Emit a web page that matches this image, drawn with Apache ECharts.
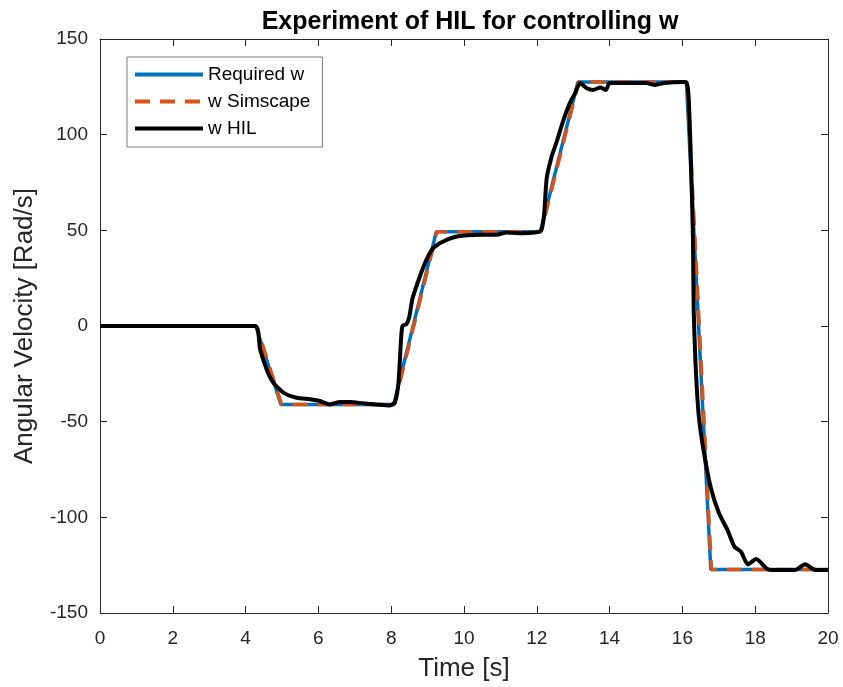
<!DOCTYPE html>
<html>
<head>
<meta charset="utf-8">
<script src="https://cdn.jsdelivr.net/npm/echarts@6/dist/echarts.min.js"></script>
<style>
html,body{margin:0;padding:0;background:#fff;}
#chart{width:843px;height:687px;}
</style>
</head>
<body>
<div id="chart"></div>
<script>
// Required w
var reqT = [0, 4.28, 4.97, 8.07, 9.24, 12.1, 13.13, 16.11, 16.78, 20];
var reqW = [0, 0, -41, -41, 49.3, 49.3, 127.5, 127.5, -127.3, -127.3];
// w Simscape
var simT = [0, 4.3, 4.99, 8.09, 9.26, 12.12, 13.15, 16.13, 16.8, 20];
var simW = [0, 0, -41, -41, 49.3, 49.3, 127.5, 127.5, -127.3, -127.3];
// w HIL
var hilT = [0, 4.26, 4.4, 4.58, 4.76, 5.04, 5.4, 5.77, 6.04, 6.32, 6.59, 6.87, 7.23, 7.6, 7.97, 8.1, 8.2, 8.27, 8.31, 8.42, 8.5, 8.58, 8.79, 8.97, 9.16, 9.43, 9.8, 10.44, 10.9, 11.17, 11.54, 12.0, 12.12, 12.2, 12.27, 12.4, 12.54, 12.72, 12.91, 13.05, 13.19, 13.37, 13.55, 13.74, 13.9, 14.0, 15.0, 15.25, 15.5, 16.05, 16.12, 16.17, 16.24, 16.29, 16.31, 16.36, 16.45, 16.59, 16.78, 17.0, 17.24, 17.43, 17.61, 17.8, 18.03, 18.3, 18.44, 19.1, 19.37, 19.65, 20];
var hilW = [0, 0, -12.3, -22.7, -29.6, -34.8, -37.5, -38.3, -39.2, -41, -39.7, -39.7, -40.4, -41, -41.5, -40, -29.6, -7, 0, 1, 5, 14, 26, 34.7, 40.8, 44.2, 46.8, 47.7, 47.7, 48.9, 48.5, 49, 50, 58, 77, 88, 96, 107, 116.6, 121.6, 127, 124.3, 123.4, 124.6, 123.4, 127, 127, 126, 127, 127.5, 127, 120, 83, 46, 8.6, -19.3, -47, -66, -84.5, -97.6, -106.7, -115.3, -118, -124.6, -121.8, -126.5, -127.5, -127.5, -124.5, -127.5, -127.5];

var xTicks = [0, 2, 4, 6, 8, 10, 12, 14, 16, 18, 20];
var yTicks = [-150, -100, -50, 0, 50, 100, 150];

function pairs(t, v) { return t.map(function (x, i) { return [x, v[i]]; }); }

var chart = echarts.init(document.getElementById('chart'), null, {renderer: 'canvas'});
var axisCol = '#262626';
var font = '"Liberation Sans", Arial, sans-serif';
var baseX = {
  type: 'value', min: xTicks[0], max: xTicks[xTicks.length - 1], interval: 2,
  axisLine: {show: true, onZero: false, lineStyle: {color: axisCol, width: 1}},
  axisTick: {show: true, inside: true, length: 7, lineStyle: {color: axisCol}},
  splitLine: {show: false}
};
var baseY = {
  type: 'value', min: yTicks[0], max: yTicks[yTicks.length - 1], interval: 50,
  axisLine: {show: true, onZero: false, lineStyle: {color: axisCol, width: 1}},
  axisTick: {show: true, inside: true, length: 7, lineStyle: {color: axisCol}},
  splitLine: {show: false}
};
var option = {
  animation: false,
  backgroundColor: '#fff',
  title: {
    text: 'Experiment of HIL for controlling w', left: 465, textAlign: 'center', top: 5,
    textStyle: {fontFamily: font, fontWeight: 'bold', fontSize: 25, color: '#000'}
  },
  grid: {left: 100, right: 15, top: 39, bottom: 73},
  legend: {
    left: 127, top: 57, orient: 'vertical', itemWidth: 68, itemHeight: 4, itemGap: 8,
    padding: [8, 12, 9, 6],
    backgroundColor: '#fff', borderColor: '#7a7a7a', borderWidth: 1, borderRadius: 0,
    lineStyle: {width: 4},
    itemStyle: {opacity: 0},
    textStyle: {fontFamily: font, fontSize: 19, color: '#000'},
    data: ['Required w', 'w Simscape', 'w HIL']
  },
  xAxis: [
    Object.assign({}, baseX, {
      position: 'bottom', name: 'Time [s]', nameLocation: 'middle', nameGap: 43,
      nameTextStyle: {fontFamily: font, fontSize: 26, color: axisCol},
      axisLabel: {fontFamily: font, fontSize: 19, color: axisCol, margin: 16}
    }),
    Object.assign({}, baseX, {position: 'top', axisLabel: {show: false}})
  ],
  yAxis: [
    Object.assign({}, baseY, {
      position: 'left', name: 'Angular Velocity [Rad/s]', nameLocation: 'middle', nameGap: 62,
      nameTextStyle: {fontFamily: font, fontSize: 26, color: axisCol},
      axisLabel: {fontFamily: font, fontSize: 19, color: axisCol, margin: 12}
    }),
    Object.assign({}, baseY, {position: 'right', axisLabel: {show: false}})
  ],
  series: [
    {name: 'Required w', type: 'line', data: pairs(reqT, reqW), showSymbol: false, symbol: 'none',
     lineStyle: {color: '#0072BD', width: 3.5}, itemStyle: {color: '#0072BD'}, z: 2},
    {name: 'w Simscape', type: 'line', data: pairs(simT, simW), showSymbol: false, symbol: 'none',
     lineStyle: {color: '#D95319', width: 3.5, type: [15, 10]}, itemStyle: {color: '#D95319'}, z: 3},
    {name: 'w HIL', type: 'line', data: pairs(hilT, hilW), showSymbol: false, symbol: 'none', smooth: 0.2,
     lineStyle: {color: '#000', width: 4}, itemStyle: {color: '#000'}, z: 4}
  ]
};
chart.setOption(option);
</script>
</body>
</html>
